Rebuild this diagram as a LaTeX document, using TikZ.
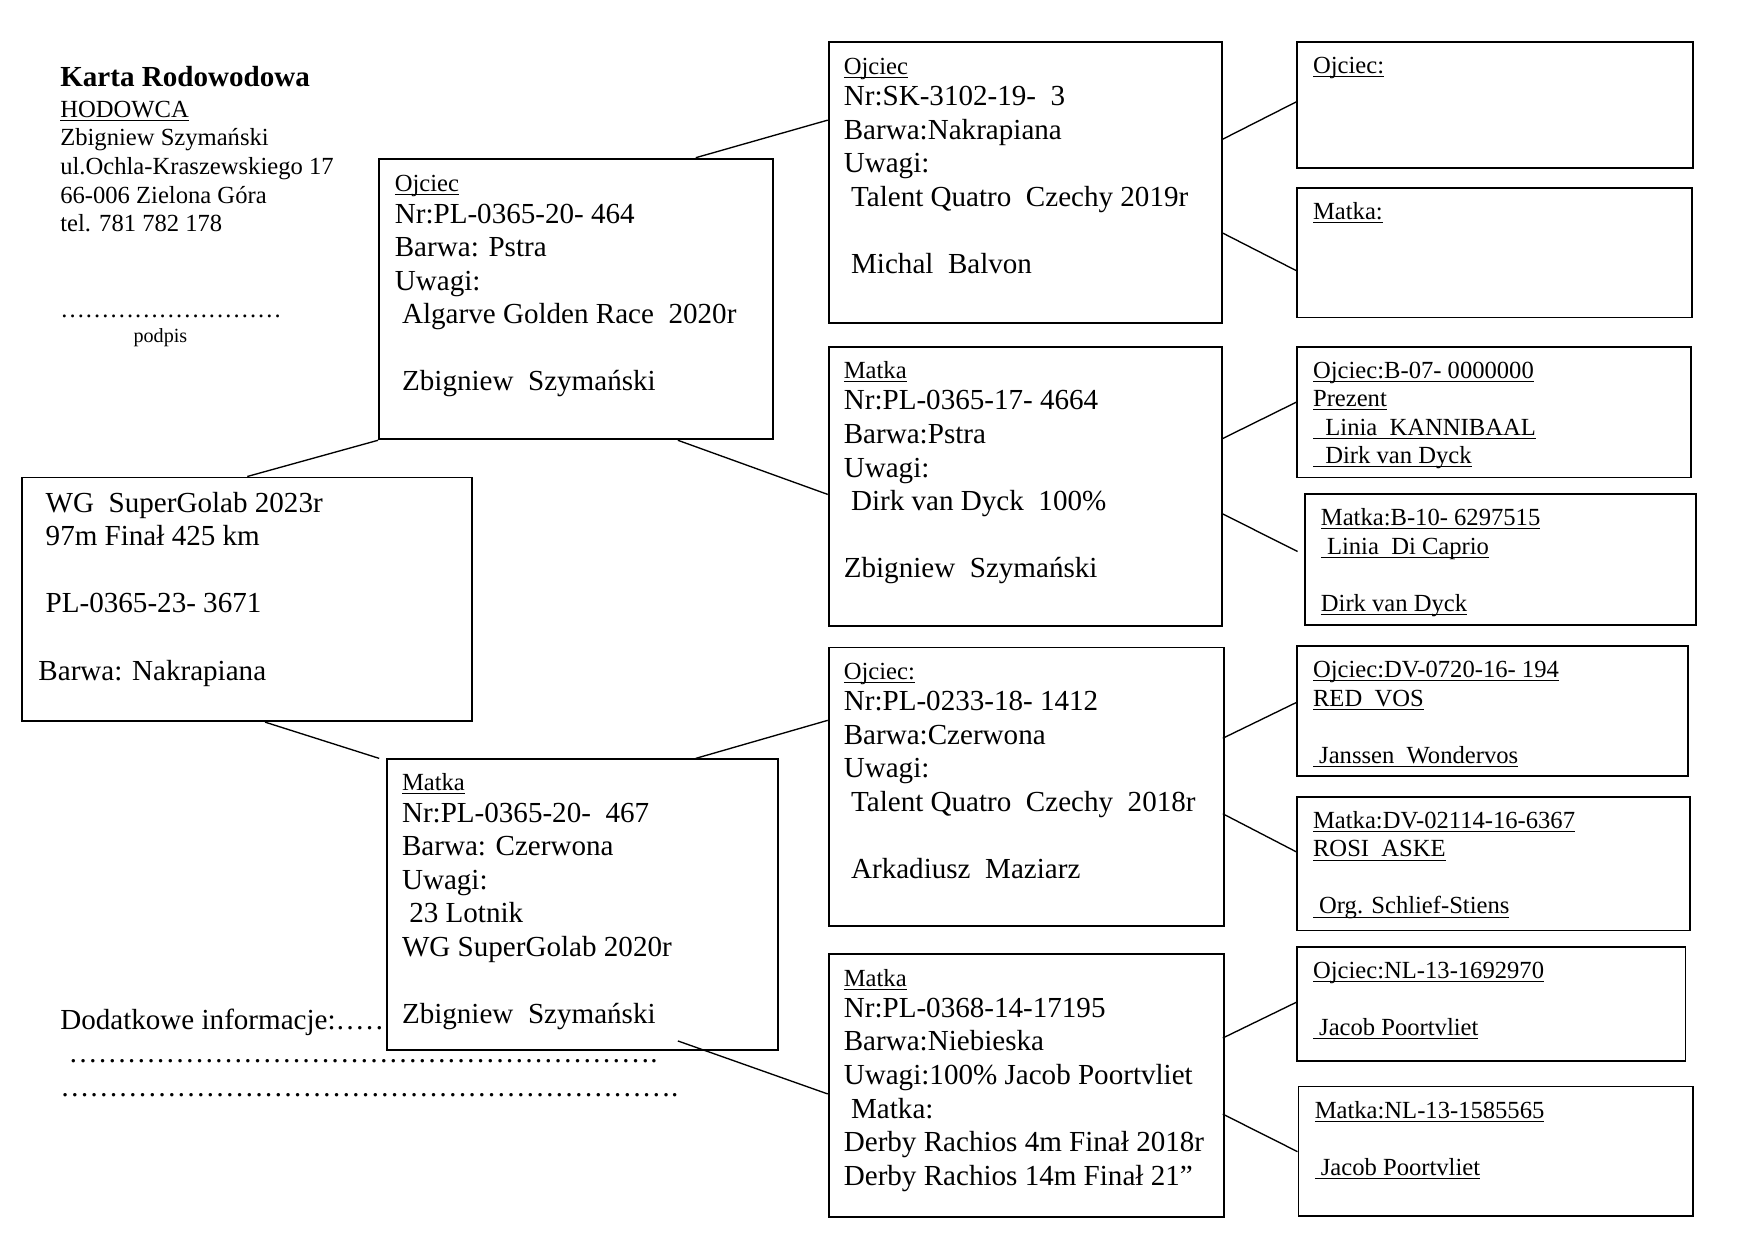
\documentclass[tikz,border=0pt]{standalone}
\usepackage{fontspec}
\setmainfont{Liberation Serif}
\usetikzlibrary{calc}
\newcommand{\uln}[1]{\setbox0\hbox{#1}\rlap{\rule[-1.6pt]{\wd0}{0.45pt}}\box0}
\newcommand{\LL}[1]{\hbox{#1}}
\newcommand{\fmain}{\fontsize{13pt}{15pt}\selectfont}
\newcommand{\fsml}{\fontsize{11pt}{12.75pt}\selectfont}
\newcommand{\bigtxt}[1]{\vtop{\fmain\baselineskip=15pt\lineskiplimit=-100pt\lineskip=0pt #1}}
\newcommand{\smltxt}[1]{\vtop{\fsml\baselineskip=12.75pt\lineskiplimit=-100pt\lineskip=0pt #1}}
\newcommand{\hdr}[1]{\LL{\fsml\uln{#1}}\kern-1pt}
\newcount\elcnt
\newcommand{\ells}[1]{\elcnt=#1\relax\loop\ifnum\elcnt>0 …\advance\elcnt by -1\repeat}
\tikzset{
  box/.style={draw, line width=0.8pt, fill=white, inner sep=0pt, anchor=north west},
  txt/.style={inner sep=0pt, anchor=base west},
  conn/.style={line width=0.6pt}
}
\begin{document}
\begin{tikzpicture}[x=0.5pt,y=-0.5pt]
\useasboundingbox (0,0) rectangle (1569,1109);
% left header
\node[txt, font=\fontsize{13pt}{15pt}\selectfont\bfseries] (title) at (53.5,77) {Karta Rodowodowa};
\node[txt] (breeder) at (53.5,105) {\smltxt{\LL{\uln{HODOWCA}}\LL{Zbigniew Szymański}\LL{ul.Ochla-Kraszewskiego 17}\LL{66-006 Zielona Góra}\LL{tel. 781 782 178}}};
\node[txt, font=\fsml] (sigdots) at (53.5,284) {\ells{9}};
\node[txt, font=\fontsize{9pt}{10pt}\selectfont] (podpis) at (119,306) {podpis};
% additional info
\node[txt, font=\fmain] (dod1) at (53.5,920) {Dodatkowe informacje:\ells{2}};
\node[txt, font=\fmain] (dod2) at (61,950) {\ells{20}.};
\node[txt, font=\fmain] (dod3) at (53.5,980) {\ells{21}.};
% boxes
\node[box, minimum width={(421.5-19)*0.5pt}, minimum height={(644-426)*0.5pt}] (A) at (19,426) {};
\node[box, minimum width={(690-338)*0.5pt}, minimum height={(392-141)*0.5pt}] (B) at (338,141) {};
\node[box, minimum width={(695-345)*0.5pt}, minimum height={(938-678)*0.5pt}] (C) at (345,678) {};
\node[box, minimum width={(1091.6-740)*0.5pt}, minimum height={(288-36.4)*0.5pt}] (D) at (740,36.4) {};
\node[box, minimum width={(1091.6-740)*0.5pt}, minimum height={(559-309.5)*0.5pt}] (E) at (740,309.5) {};
\node[box, minimum width={(1093.6-740)*0.5pt}, minimum height={(827-578)*0.5pt}] (F) at (740,578) {};
\node[box, minimum width={(1093.6-740)*0.5pt}, minimum height={(1087-852)*0.5pt}] (G) at (740,852) {};
\node[box, minimum width={(1513-1159)*0.5pt}, minimum height={(149.5-36.4)*0.5pt}] (H1) at (1159,36.4) {};
\node[box, minimum width={(1512-1159)*0.5pt}, minimum height={(283-167)*0.5pt}] (H2) at (1159,167) {};
\node[box, minimum width={(1511-1159)*0.5pt}, minimum height={(426-309.5)*0.5pt}] (H3) at (1159,309.5) {};
\node[box, minimum width={(1515.6-1166)*0.5pt}, minimum height={(558-441)*0.5pt}] (H4) at (1166,441) {};
\node[box, minimum width={(1508-1159)*0.5pt}, minimum height={(693-577)*0.5pt}] (H5) at (1159,577) {};
\node[box, minimum width={(1510-1159)*0.5pt}, minimum height={(831-711.6)*0.5pt}] (H6) at (1159,711.6) {};
\node[box, minimum width={(1506-1159)*0.5pt}, minimum height={(948-846)*0.5pt}] (H7) at (1159,846) {};
\node[box, minimum width={(1513-1160)*0.5pt}, minimum height={(1086-970.6)*0.5pt}] (H8) at (1160,970.6) {};
% box texts
\node[txt] (tA) at (34,458) {\bigtxt{\LL{\ WG\ \ SuperGolab 2023r}\LL{\ 97m Finał 425 km}\LL{}\LL{\ PL-0365-23- 3671}\LL{}\LL{Barwa: Nakrapiana}}};
\node[txt] (tB) at (352.6,171.5) {\bigtxt{\hdr{Ojciec}\LL{Nr:PL-0365-20- 464}\LL{Barwa: Pstra}\LL{Uwagi:}\LL{\ Algarve Golden Race\ \ 2020r}\LL{}\LL{\ Zbigniew\ \ Szymański}}};
\node[txt] (tC) at (359,707) {\bigtxt{\hdr{Matka}\LL{Nr:PL-0365-20-\ \ 467}\LL{Barwa: Czerwona}\LL{Uwagi:}\LL{\ 23 Lotnik}\LL{WG SuperGolab 2020r}\LL{}\LL{Zbigniew\ \ Szymański}}};
\node[txt] (tD) at (754,66.5) {\bigtxt{\hdr{Ojciec}\LL{Nr:SK-3102-19-\ \ 3}\LL{Barwa:Nakrapiana}\LL{Uwagi:}\LL{\ Talent Quatro\ \ Czechy 2019r}\LL{}\LL{\ Michal\ \ Balvon}}};
\node[txt] (tE) at (754,338.5) {\bigtxt{\hdr{Matka}\LL{Nr:PL-0365-17- 4664}\LL{Barwa:Pstra}\LL{Uwagi:}\LL{\ Dirk van Dyck\ \ 100\%}\LL{}\LL{Zbigniew\ \ Szymański}}};
\node[txt] (tF) at (754,607.5) {\bigtxt{\hdr{Ojciec:}\LL{Nr:PL-0233-18- 1412}\LL{Barwa:Czerwona}\LL{Uwagi:}\LL{\ Talent Quatro\ \ Czechy\ \ 2018r}\LL{}\LL{\ Arkadiusz\ \ Maziarz}}};
\node[txt] (tG) at (754,881.5) {\bigtxt{\hdr{Matka}\LL{Nr:PL-0368-14-17195}\LL{Barwa:Niebieska}\LL{Uwagi:100\% Jacob Poortvliet}\LL{\ Matka:}\LL{Derby Rachios 4m Finał 2018r}\LL{Derby Rachios 14m Finał 21”}}};
\node[txt] (tH1) at (1173.5,65.4) {\smltxt{\LL{\uln{Ojciec:}}}};
\node[txt] (tH2) at (1173.5,196) {\smltxt{\LL{\uln{Matka:}}}};
\node[txt] (tH3) at (1173.5,338) {\smltxt{\LL{\uln{Ojciec:B-07- 0000000}}\LL{\uln{Prezent}}\LL{\uln{\ \ Linia\ \ KANNIBAAL}}\LL{\uln{\ \ Dirk van Dyck}}}};
\node[txt] (tH4) at (1180.5,470) {\smltxt{\LL{\uln{Matka:B-10- 6297515}}\LL{\uln{\ Linia\ \ Di Caprio}}\LL{}\LL{\uln{Dirk van Dyck}}}};
\node[txt] (tH5) at (1173.5,606) {\smltxt{\LL{\uln{Ojciec:DV-0720-16- 194}}\LL{\uln{RED\ \ VOS}}\LL{}\LL{\uln{\ Janssen\ \ Wondervos}}}};
\node[txt] (tH6) at (1173.5,740.6) {\smltxt{\LL{\uln{Matka:DV-02114-16-6367}}\LL{\uln{ROSI\ \ ASKE}}\LL{}\LL{\uln{\ Org. Schlief-Stiens}}}};
\node[txt] (tH7) at (1173.5,875) {\smltxt{\LL{\uln{Ojciec:NL-13-1692970}}\LL{}\LL{\uln{\ Jacob Poortvliet}}}};
\node[txt] (tH8) at (1175,999.6) {\smltxt{\LL{\uln{Matka:NL-13-1585565}}\LL{}\LL{\uln{\ Jacob Poortvliet}}}};
% connectors
\draw[conn] (A.north) -- (B.south west);
\draw[conn] ($(A.south west)+(218,0)$) -- ($(C.north west)+(-6,0)$);
\draw[conn] ($(B.north west)+(284,0)$) -- ($(D.north west)+(0,71)$);
\draw[conn] ($(B.south west)+(268,0)$) -- ($(E.north west)+(0,132.5)$);
\draw[conn] ($(C.north west)+(277,0)$) -- ($(F.north west)+(0,66)$);
\draw[conn] ($(C.south west)+(261,-9)$) -- ($(G.north west)+(0,126)$);
\draw[conn] ($(D.north east)+(0,88)$) -- ($(H1.north west)+(0,54.6)$);
\draw[conn] ($(D.north east)+(0,172)$) -- ($(H2.north west)+(0,75)$);
\draw[conn] ($(E.north east)+(0,82.5)$) -- ($(H3.north west)+(0,50)$);
\draw[conn] ($(E.north east)+(0,150)$) -- ($(H4.north west)+(-6,52)$);
\draw[conn] ($(F.north east)+(-2,82)$) -- ($(H5.north west)+(0,51)$);
\draw[conn] ($(F.north east)+(-2,149.5)$) -- ($(H6.north west)+(0,50)$);
\draw[conn] ($(G.north east)+(-2,76)$) -- ($(H7.north west)+(0,50)$);
\draw[conn] ($(G.north east)+(-2,144)$) -- ($(H8.north west)+(0,59)$);
\end{tikzpicture}
\end{document}
